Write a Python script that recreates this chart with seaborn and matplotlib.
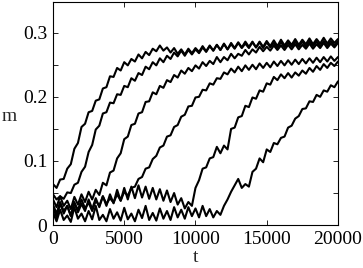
import numpy as np
import pandas as pd
import matplotlib
matplotlib.use("Agg")
import matplotlib.pyplot as plt
import seaborn as sns

# time grid (t step 250)
t_start, t_stop, t_step = 0, 20000, 250

curve1 = [0.064, 0.058, 0.071, 0.072, 0.088, 0.095, 0.119, 0.128, 0.153, 0.158,
          0.176, 0.178, 0.194, 0.196, 0.213, 0.215, 0.232, 0.231, 0.245, 0.241,
          0.254, 0.249, 0.259, 0.255, 0.266, 0.260, 0.270, 0.265, 0.275, 0.271,
          0.280, 0.272, 0.277, 0.269, 0.276, 0.267, 0.274, 0.266, 0.275, 0.268,
          0.276, 0.270, 0.279, 0.271, 0.280, 0.272, 0.281, 0.273, 0.283, 0.274,
          0.282, 0.275, 0.284, 0.276, 0.283, 0.276, 0.285, 0.277, 0.286, 0.278,
          0.287, 0.279, 0.288, 0.279, 0.289, 0.280, 0.288, 0.281, 0.290, 0.281,
          0.289, 0.282, 0.291, 0.282, 0.290, 0.283, 0.292, 0.283, 0.291, 0.284,
          0.290]
curve2 = [0.048, 0.040, 0.045, 0.041, 0.051, 0.050, 0.063, 0.066, 0.083, 0.091,
          0.114, 0.125, 0.149, 0.155, 0.174, 0.176, 0.191, 0.190, 0.204, 0.203,
          0.217, 0.215, 0.229, 0.225, 0.237, 0.234, 0.247, 0.243, 0.254, 0.249,
          0.260, 0.254, 0.264, 0.259, 0.269, 0.263, 0.272, 0.264, 0.273, 0.266,
          0.274, 0.268, 0.277, 0.270, 0.279, 0.272, 0.281, 0.273, 0.282, 0.274,
          0.284, 0.276, 0.285, 0.277, 0.286, 0.278, 0.286, 0.277, 0.285, 0.276,
          0.285, 0.277, 0.284, 0.276, 0.285, 0.277, 0.285, 0.278, 0.286, 0.278,
          0.286, 0.278, 0.287, 0.279, 0.286, 0.279, 0.287, 0.279, 0.287, 0.280,
          0.286]
curve3 = [0.040, 0.028, 0.045, 0.030, 0.038, 0.025, 0.044, 0.032, 0.048, 0.036,
          0.052, 0.040, 0.055, 0.047, 0.066, 0.062, 0.082, 0.085, 0.104, 0.112,
          0.134, 0.138, 0.156, 0.158, 0.174, 0.176, 0.192, 0.193, 0.207, 0.204,
          0.217, 0.214, 0.226, 0.223, 0.234, 0.230, 0.241, 0.236, 0.245, 0.240,
          0.249, 0.244, 0.254, 0.248, 0.256, 0.251, 0.262, 0.254, 0.262, 0.257,
          0.267, 0.260, 0.267, 0.264, 0.273, 0.266, 0.274, 0.269, 0.278, 0.271,
          0.278, 0.272, 0.280, 0.273, 0.280, 0.273, 0.281, 0.274, 0.282, 0.274,
          0.281, 0.275, 0.283, 0.275, 0.282, 0.276, 0.284, 0.276, 0.283, 0.277,
          0.284]
curve4 = [0.032, 0.018, 0.036, 0.022, 0.030, 0.015, 0.034, 0.024, 0.040, 0.026,
          0.035, 0.022, 0.038, 0.030, 0.045, 0.033, 0.042, 0.035, 0.048, 0.038,
          0.052, 0.046, 0.058, 0.060, 0.072, 0.075, 0.088, 0.090, 0.103, 0.108,
          0.121, 0.124, 0.138, 0.140, 0.153, 0.156, 0.169, 0.172, 0.185, 0.186,
          0.199, 0.200, 0.211, 0.210, 0.221, 0.219, 0.229, 0.228, 0.238, 0.235,
          0.244, 0.238, 0.247, 0.240, 0.249, 0.242, 0.250, 0.243, 0.252, 0.245,
          0.253, 0.246, 0.255, 0.248, 0.256, 0.249, 0.257, 0.250, 0.258, 0.251,
          0.259, 0.252, 0.260, 0.253, 0.261, 0.254, 0.262, 0.255, 0.263, 0.256,
          0.262]
curve5 = [0.028, 0.012, 0.034, 0.018, 0.030, 0.014, 0.036, 0.020, 0.033, 0.022,
          0.040, 0.025, 0.042, 0.028, 0.045, 0.030, 0.048, 0.034, 0.055, 0.038,
          0.058, 0.040, 0.060, 0.042, 0.062, 0.043, 0.060, 0.041, 0.058, 0.040,
          0.056, 0.038, 0.054, 0.036, 0.050, 0.032, 0.042, 0.026, 0.036, 0.030,
          0.058, 0.070, 0.088, 0.090, 0.104, 0.106, 0.122, 0.112, 0.124, 0.118,
          0.150, 0.152, 0.168, 0.170, 0.186, 0.184, 0.199, 0.197, 0.210, 0.208,
          0.221, 0.219, 0.231, 0.226, 0.235, 0.229, 0.237, 0.230, 0.238, 0.233,
          0.241, 0.236, 0.245, 0.239, 0.248, 0.242, 0.251, 0.245, 0.253, 0.248,
          0.255]
curve6 = [0.020, 0.006, 0.024, 0.008, 0.015, 0.005, 0.028, 0.010, 0.018, 0.006,
          0.022, 0.009, 0.030, 0.008, 0.016, 0.006, 0.025, 0.010, 0.020, 0.007,
          0.027, 0.009, 0.018, 0.006, 0.024, 0.011, 0.030, 0.008, 0.019, 0.007,
          0.026, 0.010, 0.022, 0.008, 0.028, 0.012, 0.024, 0.010, 0.028, 0.014,
          0.026, 0.012, 0.030, 0.014, 0.025, 0.012, 0.022, 0.016, 0.030, 0.040,
          0.052, 0.062, 0.072, 0.058, 0.064, 0.060, 0.083, 0.088, 0.104, 0.098,
          0.118, 0.114, 0.128, 0.126, 0.136, 0.138, 0.152, 0.155, 0.166, 0.170,
          0.181, 0.182, 0.193, 0.192, 0.203, 0.200, 0.210, 0.208, 0.218, 0.215,
          0.224]

curves = {"c1": curve1, "c2": curve2, "c3": curve3,
          "c4": curve4, "c5": curve5, "c6": curve6}

x_ticks = [0, 5000, 10000, 15000, 20000]
x_tick_labels = ["0", "5000", "10000", "15000", "20000"]
y_ticks = [0.0, 0.05, 0.1, 0.15, 0.2, 0.25, 0.3]
y_tick_labels = ["0", "", "0.1", "", "0.2", "", "0.3"]

t = np.arange(t_start, t_stop + t_step, t_step)
frames = []
for name, vals in curves.items():
    n = min(len(vals), len(t))
    frames.append(pd.DataFrame({"t": t[:n], "m": vals[:n], "run": name}))
df = pd.concat(frames, ignore_index=True)

sns.set_theme(style="ticks")
plt.rcParams["font.family"] = ["Liberation Serif", "DejaVu Serif"]

fig = plt.figure(figsize=(3.63, 2.68), dpi=100)
ax = fig.add_axes([0.146, 0.160, 0.785, 0.833])

sns.lineplot(data=df, x="t", y="m", units="run", estimator=None,
             color="black", linewidth=1.5, ax=ax, legend=False)

ax.set_xlim(0, 20000)
ax.set_ylim(0, 0.348)
ax.set_xticks(x_ticks)
ax.set_xticklabels(x_tick_labels)
ax.set_yticks(y_ticks)
ax.set_yticklabels(y_tick_labels)
ax.tick_params(direction="in", top=True, right=True, length=3.5, width=0.6,
               labelsize=14, colors="black", pad=4)
for sp in ax.spines.values():
    sp.set_visible(True)
    sp.set_linewidth(0.8)
    sp.set_color("black")

ax.set_xlabel("t", fontsize=14)
ax.xaxis.set_label_coords(0.5, -0.105)
ax.set_ylabel("m", fontsize=14, rotation=0)
ax.yaxis.set_label_coords(-0.155, 0.45)

fig.savefig("out.png", dpi=100, facecolor="white")
